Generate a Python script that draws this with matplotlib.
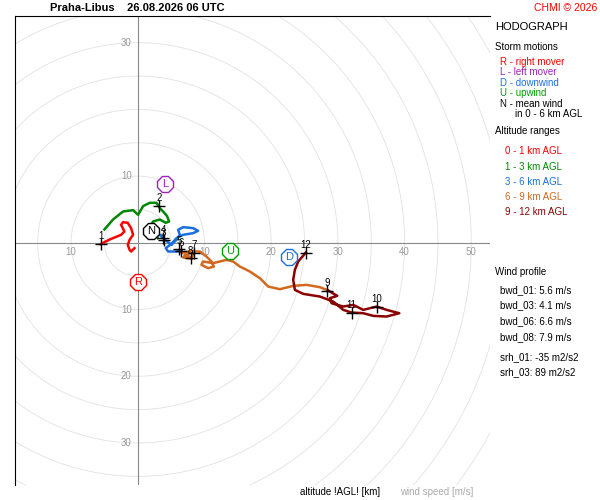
import numpy as np
import matplotlib
matplotlib.use("Agg")
import matplotlib.pyplot as plt

plt.rcParams["font.family"] = ["Liberation Sans", "DejaVu Sans"]

# hodograph segments (u, v) in m/s
red_u = [-5.6, -4.2, -2.5, -2.0, -2.5, -2.2, -1.5, -1.0, -0.7, -1.2, -1.5, -1.2, -1.0, -0.5]
red_v = [-0.2, 0.5, 1.2, 1.7, 2.7, 3.1, 3.0, 2.2, 1.2, 0.5, -0.3, -1.1, -1.3, -0.8]
green_u = [-5.0, -3.7, -2.2, -0.7, 0.05, 0.8, 1.8, 2.8, 3.3, 3.8, 4.4, 4.7, 4.2, 3.3, 2.3, 1.9, 2.5, 3.0]
green_v = [2.0, 3.5, 4.7, 4.9, 4.2, 5.5, 6.0, 6.0, 5.2, 4.7, 4.0, 3.2, 3.0, 3.5, 3.2, 2.5, 1.7, 0.7]
blue_u = [3.05, 3.8, 4.4, 5.05, 5.8, 6.3, 6.05, 6.8, 8.3, 9.05, 8.3, 6.8, 5.8, 5.05, 4.2, 4.55, 5.8, 6.55]
blue_v = [1.45, 0.7, 0.2, -0.3, 0.45, 1.2, 1.95, 2.35, 2.2, 1.8, 1.45, 1.2, 0.7, -0.15, -0.8, -1.3, -1.3, -1.2]
orange_u = [6.55, 6.5, 8.3, 6.8, 8.2, 7.0, 7.3, 8.05, 8.55, 9.3, 10.3, 11.05, 11.4, 10.55, 9.55, 9.8,
            11.3, 12.3, 13.3, 14.3, 15.3, 16.8, 18.3, 19.55, 21.3, 23.3, 25.3, 27.3, 28.55]
orange_v = [-1.2, -1.5, -1.2, -2.2, -2.4, -1.8, -1.8, -2.3, -1.3, -1.3, -2.05, -2.8, -3.55, -3.8, -3.3, -2.8,
            -3.05, -2.8, -2.55, -2.8, -3.55, -4.3, -5.3, -6.55, -6.95, -6.45, -6.3, -6.65, -7.15]
dred_u = [28.55, 29.9, 28.8, 29.05, 30.8, 32.3, 33.8, 35.8, 37.3, 39.2, 37.3, 35.3, 33.8, 32.05, 30.8,
          29.3, 27.3, 24.8, 23.55, 23.3, 23.55, 24.05, 25.2]
dred_v = [-7.15, -7.95, -8.3, -9.05, -9.55, -9.3, -10.05, -9.55, -10.05, -10.55, -11.05, -10.95, -10.55,
          -10.45, -10.05, -8.8, -8.05, -7.65, -7.05, -5.55, -4.05, -2.8, -1.45]

# height marks 1..12 km
km_labels = ["1", "2", "3", "4", "5", "6", "7", "8", "9", "10", "11", "12"]
km_u = [-5.55, 3.2, 3.9, 3.8, 6.2, 6.55, 8.4, 7.95, 28.4, 35.8, 32.05, 25.2]
km_v = [-0.15, 5.55, 0.35, 0.7, -0.95, -1.15, -1.45, -2.3, -7.15, -9.55, -10.45, -1.45]

# storm motions
sm_labels = ["L", "R", "N", "U", "D"]
sm_u = [4.05, 0.05, 2.05, 13.9, 22.7]
sm_v = [8.8, -5.8, 1.7, -1.2, -2.05]
sm_colors = ["#a020c0", "#ff0000", "#000000", "#00a000", "#1a6fdf"]

C_RED, C_GREEN, C_BLUE, C_ORANGE, C_DRED = "#ff0000", "#008800", "#1a6fdf", "#d2691e", "#8b0000"

fig = plt.figure(figsize=(6, 5), dpi=100)
W, H = 600, 500
ax = fig.add_axes([15 / W, 1 - 485 / H, 475 / W, 469 / H])
ax.set_xlim(-18.4, 52.8)
ax.set_ylim(-36.3, 34.0)
for s in ["right", "bottom"]:
    ax.spines[s].set_visible(False)
ax.set_xticks([])
ax.set_yticks([])

th = np.linspace(0, 2 * np.pi, 400)
for r in range(5, 90, 5):
    ax.plot(r * np.cos(th), r * np.sin(th), color="#e2e2e2", lw=0.6, zorder=1)
ax.axhline(0, color="#888888", lw=0.8, zorder=1)
ax.axvline(0, color="#888888", lw=0.8, zorder=1)
for t in [-10, 10, 20, 30, 40, 50]:
    ax.text(t, -0.6, str(abs(t)), color="#999999", fontsize=7, ha="center", va="top", zorder=2)
for t in [30, 10, -10, -20, -30]:
    ax.text(-0.9, t, str(abs(t)), color="#999999", fontsize=7, ha="right", va="center", zorder=2)

for u, v, c in [(red_u, red_v, C_RED), (green_u, green_v, C_GREEN), (blue_u, blue_v, C_BLUE),
                (orange_u, orange_v, C_ORANGE), (dred_u, dred_v, C_DRED)]:
    ax.plot(u, v, color=c, lw=1.8, zorder=3, solid_joinstyle="round")

ax.plot(km_u, km_v, "k+", ms=9, mew=1.0, zorder=4)
for lab, u, v in zip(km_labels, km_u, km_v):
    ax.text(u, v + 0.4, lab, fontsize=7, ha="center", va="bottom", zorder=5)

for lab, u, v, c in zip(sm_labels, sm_u, sm_v, sm_colors):
    ax.plot(u, v, marker="8", ms=12, mfc="white", mec=c, mew=1.0, zorder=6)
    ax.text(u, v, lab, color=c, fontsize=8, ha="center", va="center", zorder=7)


def ftext(px, py, s, **kw):
    kw.setdefault("fontsize", 7)
    fig.text(px / W, 1 - py / H, s, va="center", **kw)


ftext(50, 8, "Praha-Libus    26.08.2026 06 UTC", fontsize=8, fontweight="bold")
ftext(597, 8, "CHMI © 2026", color="red", fontsize=7.5, ha="right")
ftext(495, 27, "HODOGRAPH", fontsize=8)
ftext(495, 47, "Storm motions")
ftext(500, 62, "R - right mover", color=C_RED)
ftext(500, 72, "L - left mover", color="#a020c0")
ftext(500, 83, "D - downwind", color=C_BLUE)
ftext(500, 93, "U - upwind", color="#00a000")
ftext(500, 104, "N - mean wind")
ftext(515, 114, "in 0 - 6 km AGL")
ftext(495, 131, "Altitude ranges")
ftext(505, 151, "0 - 1 km AGL", color=C_RED)
ftext(505, 167, "1 - 3 km AGL", color=C_GREEN)
ftext(505, 182, "3 - 6 km AGL", color=C_BLUE)
ftext(505, 197, "6 - 9 km AGL", color=C_ORANGE)
ftext(505, 212, "9 - 12 km AGL", color=C_DRED)
ftext(495, 272, "Wind profile")
ftext(500, 290, "bwd_01: 5.6 m/s")
ftext(500, 305, "bwd_03: 4.1 m/s")
ftext(500, 321, "bwd_06: 6.6 m/s")
ftext(500, 337, "bwd_08: 7.9 m/s")
ftext(500, 357, "srh_01: -35 m2/s2")
ftext(500, 372, "srh_03: 89 m2/s2")
ftext(300, 492, "altitude !AGL! [km]")
ftext(400, 492, "wind speed [m/s]", color="#aaaaaa")

fig.savefig("out.png", dpi=100)
